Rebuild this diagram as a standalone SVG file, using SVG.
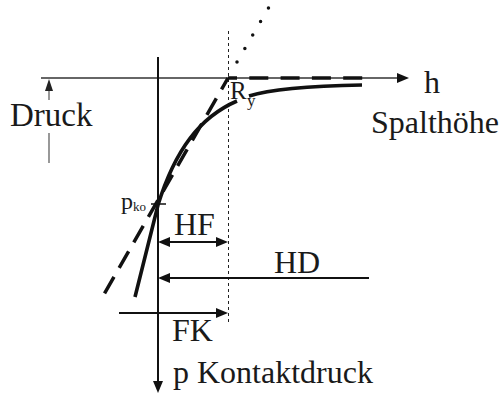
<svg xmlns="http://www.w3.org/2000/svg" width="503" height="398" viewBox="0 0 503 398">
<defs>
<marker id="ah" markerWidth="12" markerHeight="10" refX="0" refY="5" orient="auto-start-reverse" markerUnits="userSpaceOnUse"><path d="M0,0 L12,5 L0,10 z" fill="#111"/></marker>
<marker id="ahs" markerWidth="12" markerHeight="8" refX="0" refY="4" orient="auto" markerUnits="userSpaceOnUse"><path d="M0,0 L12,4 L0,8 z" fill="#222"/></marker>
<style>
.ax{stroke:#111;stroke-width:2;fill:none}
.curve{stroke:#111;stroke-width:3.6;fill:none}
.lbl{font-family:"Liberation Serif",Tinos,"DejaVu Serif",serif;fill:#1a1a1a;font-size:32px}
</style>
</defs>
<g id="connectors">
<line id="h-axis" x1="41" y1="78" x2="397" y2="78" stroke="#333" stroke-width="1.4" marker-end="url(#ah)"/>
<line id="p-axis" class="ax" x1="158" y1="57" x2="158" y2="381" marker-end="url(#ah)"/>
<line id="dotted-vert" x1="228.5" y1="31" x2="228.5" y2="325" stroke="#222" stroke-width="1" stroke-dasharray="3 3"/>
<line id="dotted-diag" x1="237" y1="62" x2="268.5" y2="8" stroke="#111" stroke-width="3.5" stroke-linecap="round" stroke-dasharray="0 15.6"/>
<line id="dashed-h" x1="228" y1="78" x2="363" y2="78" stroke="#111" stroke-width="3.5" stroke-dasharray="19 12.3" stroke-dashoffset="10"/>
<line id="dashed-diag" x1="228" y1="78" x2="103" y2="296" stroke="#111" stroke-width="3.5" stroke-dasharray="19 10.4" stroke-dashoffset="6"/>
<path id="curve-a" class="curve" d="M362,85 C310,86 268,90 249,96"/>
<path id="curve-b" class="curve" d="M237,101 C200,117 175,150 158,205 L135,297"/>
<line id="pko-tick" x1="151" y1="204" x2="166" y2="204" stroke="#111" stroke-width="1.5"/>
<line id="druck-up" x1="49" y1="100" x2="49" y2="91" stroke="#444" stroke-width="1.1" marker-end="url(#ahs)"/>
<line id="druck-low" x1="49" y1="133" x2="49" y2="163" stroke="#444" stroke-width="1.1"/>
<line id="hf-arrow" class="ax" x1="170" y1="242" x2="216" y2="242" marker-start="url(#ah)" marker-end="url(#ah)"/>
<line id="hd-arrow" class="ax" x1="369" y1="278" x2="170" y2="278" marker-end="url(#ah)"/>
<line id="fk-arrow" class="ax" x1="119" y1="313" x2="216" y2="313" marker-end="url(#ah)"/>
</g>
<g id="label-druck"><text class="lbl" x="10" y="126" style="font-size:33px">Druck</text></g>
<g id="label-h"><text class="lbl" x="424" y="93">h</text></g>
<g id="label-spalthoehe"><text class="lbl" x="371" y="133">Spalthöhe</text></g>
<g id="label-ry"><text class="lbl" x="230" y="99" style="font-size:25px">R</text><text class="lbl" x="247" y="106" style="font-size:17px">y</text></g>
<g id="label-pko"><text class="lbl" x="121" y="209" style="font-size:24px">p</text><text class="lbl" x="133" y="211" style="font-size:13px">ko</text></g>
<g id="label-hf"><text class="lbl" x="174" y="235">HF</text></g>
<g id="label-hd"><text class="lbl" x="274" y="273">HD</text></g>
<g id="label-fk"><text class="lbl" x="172" y="341">FK</text></g>
<g id="label-p"><text class="lbl" x="173" y="383">p Kontaktdruck</text></g>
</svg>
